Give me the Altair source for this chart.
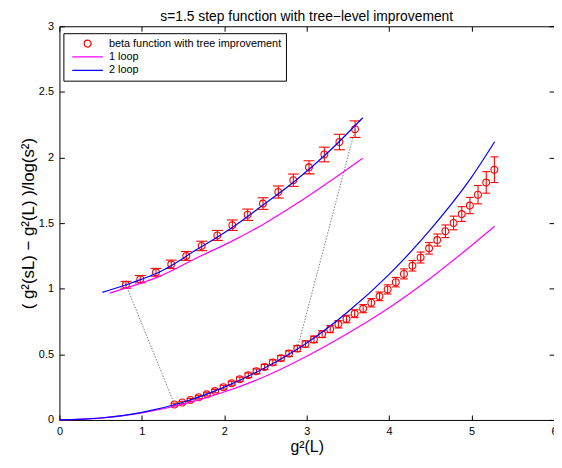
import altair as alt
import pandas as pd

FONT = "Liberation Sans"
TITLE = "s=1.5 step function with tree\u2212level improvement"
X_TITLE = "g\u00b2(L)"
Y_TITLE = "( g\u00b2(sL) \u2212 g\u00b2(L) )/log(s\u00b2)"

SERIES = ["beta function with tree improvement", "1 loop", "2 loop"]
SERIES_COLORS = ["#ff0000", "#ff00ff", "#0000ff"]
# small circle inside a 31px symbol box (unit coords), and plain strokes
CIRCLE_PATH = "M0.225,0A0.225,0.225,0,1,1,-0.225,0A0.225,0.225,0,1,1,0.225,0Z"
SERIES_SHAPES = [CIRCLE_PATH, "stroke", "stroke"]

X_TICKS = [0, 1, 2, 3, 4, 5, 6]
Y_TICKS = [0, 0.5, 1, 1.5, 2, 2.5, 3]

# lower data set (beta function with tree improvement)
lower_x = [1.397, 1.492, 1.591, 1.690, 1.789, 1.888, 1.991, 2.090, 2.189, 2.292,
           2.391, 2.489, 2.589, 2.688, 2.786, 2.886, 2.985, 3.088, 3.187, 3.285,
           3.385, 3.483, 3.582, 3.685, 3.784, 3.884, 3.982, 4.081, 4.180, 4.283,
           4.382, 4.485, 4.584, 4.683, 4.782, 4.881, 4.980, 5.078, 5.178, 5.277]
lower_y = [0.118, 0.133, 0.153, 0.173, 0.195, 0.220, 0.250, 0.280, 0.311, 0.341,
           0.371, 0.404, 0.438, 0.471, 0.506, 0.544, 0.579, 0.614, 0.654, 0.692,
           0.729, 0.769, 0.810, 0.848, 0.893, 0.942, 0.995, 1.050, 1.113, 1.175,
           1.238, 1.308, 1.371, 1.438, 1.501, 1.569, 1.634, 1.717, 1.810, 1.907]
lower_err = [0.010, 0.010, 0.011, 0.012, 0.012, 0.013, 0.014, 0.015, 0.016, 0.017,
             0.018, 0.019, 0.020, 0.021, 0.022, 0.023, 0.024, 0.025, 0.026, 0.027,
             0.028, 0.029, 0.030, 0.031, 0.032, 0.033, 0.035, 0.036, 0.038, 0.040,
             0.042, 0.044, 0.046, 0.048, 0.052, 0.056, 0.062, 0.070, 0.082, 0.098]

# upper data set
upper_x = [0.807, 0.981, 1.171, 1.357, 1.539, 1.726, 1.916, 2.098,
           2.284, 2.470, 2.656, 2.838, 3.028, 3.214, 3.397, 3.587]
upper_y = [1.030, 1.073, 1.125, 1.186, 1.250, 1.326, 1.406, 1.484,
           1.564, 1.649, 1.737, 1.827, 1.925, 2.023, 2.118, 2.216]
upper_err = [0.026, 0.028, 0.030, 0.032, 0.034, 0.036, 0.038, 0.040,
             0.043, 0.044, 0.046, 0.047, 0.050, 0.056, 0.059, 0.063]

# perturbative curves
one_loop_lower_x = [0, 0.5, 1.0, 1.5, 2.0, 2.5, 3.0, 3.5, 4.0, 4.5, 5.0, 5.28]
one_loop_lower_y = [0, 0.014, 0.054, 0.120, 0.213, 0.333, 0.485, 0.660, 0.855, 1.080, 1.330, 1.476]
two_loop_lower_x = [0, 0.5, 1.0, 1.5, 2.0, 2.5, 3.0, 3.5, 4.0, 4.5, 5.0, 5.28]
two_loop_lower_y = [0, 0.015, 0.058, 0.135, 0.250, 0.400, 0.587, 0.825, 1.110, 1.450, 1.850, 2.120]
one_loop_upper_x = [0.61, 1.0, 1.2, 1.67, 2.07, 2.47, 2.87, 3.26, 3.68]
one_loop_upper_y = [0.967, 1.045, 1.09, 1.236, 1.355, 1.49, 1.645, 1.81, 1.995]
two_loop_upper_x = [0.52, 0.81, 1.0, 1.22, 1.67, 2.07, 2.47, 2.87, 3.26, 3.68]
two_loop_upper_y = [0.972, 1.03, 1.073, 1.13, 1.30, 1.455, 1.638, 1.827, 2.04, 2.303]

# dotted connectors: (upper index, lower index)
CONNECT = [(0, 0), (15, 15)]


def points_df(xs, ys, es):
    return pd.DataFrame({
        "x": xs, "y": ys,
        "lo": [y - e for y, e in zip(ys, es)],
        "hi": [y + e for y, e in zip(ys, es)],
        "series": SERIES[0],
    })


lower_df = points_df(lower_x, lower_y, lower_err)
upper_df = points_df(upper_x, upper_y, upper_err)
all_pts = pd.concat([lower_df, upper_df], ignore_index=True)


def curve_df(pairs):
    rows = []
    for name, xs, ys in pairs:
        for x, y in zip(xs, ys):
            rows.append({"x": x, "y": y, "curve": name})
    return pd.DataFrame(rows)


one_df = curve_df([("lower", one_loop_lower_x, one_loop_lower_y),
                   ("upper", one_loop_upper_x, one_loop_upper_y)])
two_df = curve_df([("lower", two_loop_lower_x, two_loop_lower_y),
                   ("upper", two_loop_upper_x, two_loop_upper_y)])

conn_rows = []
for k, (iu, il) in enumerate(CONNECT):
    conn_rows.append({"x": upper_x[iu], "y": upper_y[iu], "pair": k})
    conn_rows.append({"x": lower_x[il], "y": lower_y[il], "pair": k})
conn_df = pd.DataFrame(conn_rows)

xs = alt.Scale(domain=[0, 6], nice=False, zero=False)
ys = alt.Scale(domain=[0, 3], nice=False, zero=False)

common_axis = dict(domain=False, grid=False, ticks=True, tickSize=5, offset=-5,
                   tickColor="black", tickWidth=1, labelFont=FONT, labelFontSize=11,
                   labelColor="black", titleFont=FONT,
                   titleFontWeight="normal", titleColor="black")

x_axis = alt.Axis(orient="bottom", values=X_TICKS, format="~g", labelPadding=6,
                  labelFlush=False, title=X_TITLE, titlePadding=2, titleFontSize=16,
                  **common_axis)
y_axis = alt.Axis(orient="left", values=Y_TICKS, format="~g", labelPadding=6,
                  title=Y_TITLE, titlePadding=1, titleFontSize=17, **common_axis)
x_axis_top = alt.Axis(orient="top", values=X_TICKS, labels=False, title=None, **common_axis)
y_axis_right = alt.Axis(orient="right", values=Y_TICKS, labels=False, title=None, **common_axis)

legend = alt.Legend(
    title=None, orient="none", legendX=4, legendY=7, direction="vertical",
    fillColor="white", strokeColor="black", padding=4,
    labelFont=FONT, labelFontSize=11, labelColor="black", labelOffset=5, labelLimit=400,
    symbolSize=961, symbolStrokeWidth=1.2, clipHeight=13, rowPadding=0.5,
    symbolOffset=4,
)


def bars(df, cap):
    base = alt.Chart(df)
    rule = base.mark_rule(color="#ff0000", strokeWidth=1.1).encode(
        x=alt.X("x:Q", scale=xs, axis=None),
        y=alt.Y("lo:Q", scale=ys, axis=None),
        y2="hi:Q",
    )
    lo = base.mark_tick(color="#ff0000", orient="horizontal", size=cap, thickness=1.1, opacity=1).encode(
        x=alt.X("x:Q", scale=xs, axis=None), y=alt.Y("lo:Q", scale=ys, axis=None))
    hi = base.mark_tick(color="#ff0000", orient="horizontal", size=cap, thickness=1.1, opacity=1).encode(
        x=alt.X("x:Q", scale=xs, axis=None), y=alt.Y("hi:Q", scale=ys, axis=None))
    return [rule, lo, hi]


frame = alt.Chart(conn_df).mark_line(color="#444444", strokeWidth=0.7, strokeDash=[1.5, 1.5]).encode(
    x=alt.X("x:Q", scale=xs, axis=x_axis_top),
    y=alt.Y("y:Q", scale=ys, axis=y_axis_right),
    detail="pair:N",
)

points = alt.Chart(all_pts).mark_point(filled=False, size=961, strokeWidth=1.1, opacity=1).encode(
    x=alt.X("x:Q", scale=xs, axis=x_axis),
    y=alt.Y("y:Q", scale=ys, axis=y_axis),
    color=alt.Color("series:N", scale=alt.Scale(domain=SERIES, range=SERIES_COLORS), legend=legend),
    shape=alt.Shape("series:N", scale=alt.Scale(domain=SERIES, range=SERIES_SHAPES), legend=legend),
)

one_line = alt.Chart(one_df).mark_line(color="#ff00ff", strokeWidth=1.2, interpolate="monotone").encode(
    x=alt.X("x:Q", scale=xs, axis=None),
    y=alt.Y("y:Q", scale=ys, axis=None),
    detail="curve:N",
)
two_line = alt.Chart(two_df).mark_line(color="#0000ff", strokeWidth=1.2, interpolate="monotone").encode(
    x=alt.X("x:Q", scale=xs, axis=None),
    y=alt.Y("y:Q", scale=ys, axis=None),
    detail="curve:N",
)

layers = bars(lower_df, 8) + bars(upper_df, 11) + [points, one_line, two_line, frame]

chart = alt.layer(*layers).resolve_axis(x="independent", y="independent").properties(
    width=500, height=398,
    title=alt.TitleParams(TITLE, fontSize=14, fontWeight="normal", font=FONT, color="black",
                          offset=2, dy=6, anchor="middle"),
    autosize=alt.AutoSizeParams(type="none"),
    padding={"left": 52, "top": 16, "right": 0, "bottom": 38},
).configure(font=FONT, background="white").configure_view(stroke="black", strokeWidth=1)

chart.save("out.html", embed_options={"renderer": "svg", "actions": False})
